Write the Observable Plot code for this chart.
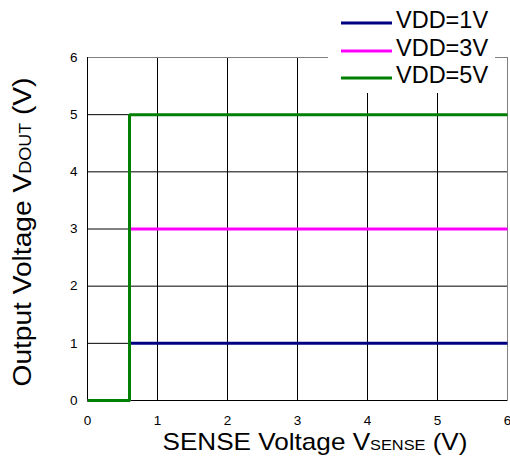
<!DOCTYPE html>
<html><head><meta charset="utf-8">
<script src="https://cdn.jsdelivr.net/npm/d3@7"></script>
<script src="https://cdn.jsdelivr.net/npm/@observablehq/plot@0.6"></script>
<style>
body{margin:0;background:#fff;}
#wrap{width:510px;height:459px;}
</style></head><body><div id="wrap"></div>
<script>
const series = ["VDD=1V", "VDD=3V", "VDD=5V"];
const colors = ["#000080", "#ff00ff", "#008000"];
const stepX = [0, 0.6, 0.6, 6];
const vdd1Y = [0, 0, 1, 1];
const vdd3Y = [0, 0, 3, 3];
const vdd5Y = [0, 0, 5, 5];
const xTicks = [0, 1, 2, 3, 4, 5, 6];
const yTicks = [0, 1, 2, 3, 4, 5, 6];

const seriesY = [vdd1Y, vdd3Y, vdd5Y];
const rows = [];
series.forEach((s, i) => stepX.forEach((x, j) => rows.push({series: s, x, y: seriesY[i][j]})));

const FONT = '"Liberation Sans", Arial, sans-serif';
const plot = Plot.plot({
  width: 510, height: 459,
  marginLeft: 87, marginRight: 3, marginTop: 57, marginBottom: 59,
  style: {fontFamily: FONT, fontSize: "13.5px", color: "#000", background: "#fff"},
  x: {domain: [0, 6], ticks: xTicks, tickFormat: d => String(d), label: null, tickSize: 0, tickPadding: 15},
  y: {domain: [0, 6], ticks: yTicks, tickFormat: d => String(d), label: null, tickSize: 0, tickPadding: 10},
  color: {domain: series, range: colors},
  marks: [
    Plot.gridX(xTicks, {stroke: "#000", strokeOpacity: 1}),
    Plot.gridY(yTicks, {stroke: "#000", strokeOpacity: 1}),
    Plot.frame({stroke: "#808080"}),
    Plot.ruleX([0], {stroke: "#000"}),
    Plot.ruleY([0], {stroke: "#000"}),
    Plot.line(rows, {x: "x", y: "y", z: "series", stroke: "series", strokeWidth: 3, strokeLinejoin: "miter", strokeLinecap: "butt"})
  ]
});
document.getElementById("wrap").appendChild(plot);

const svg = d3.select(plot);
// legend
const lg = svg.append("g").attr("font-family", FONT).attr("text-anchor", "start");
lg.append("rect").attr("x", 328).attr("y", 0).attr("width", 167).attr("height", 93).attr("fill", "#fff");
const rowY = [23, 51, 78];
series.forEach((s, i) => {
  lg.append("line").attr("x1", 341).attr("x2", 392).attr("y1", rowY[i]).attr("y2", rowY[i])
    .attr("stroke", colors[i]).attr("stroke-width", 3);
  lg.append("text").attr("x", 396).attr("y", rowY[i] + 5)
    .attr("font-size", 23.5).attr("fill", "#000").text(s);
});
// axis titles
const xt = svg.append("text").attr("x", 315).attr("y", 450).attr("text-anchor", "middle")
  .attr("font-family", FONT).attr("font-size", 24).attr("fill", "#000")
  .attr("textLength", 305).attr("lengthAdjust", "spacingAndGlyphs");
xt.append("tspan").text("SENSE Voltage V");
xt.append("tspan").attr("font-size", 15).text("SENSE");
xt.append("tspan").text(" (V)");
const yt = svg.append("text").attr("transform", "translate(31,232) rotate(-90)").attr("text-anchor", "middle")
  .attr("font-family", FONT).attr("font-size", 25).attr("fill", "#000")
  .attr("textLength", 309).attr("lengthAdjust", "spacingAndGlyphs");
yt.append("tspan").text("Output Voltage V");
yt.append("tspan").attr("font-size", 16).text("DOUT");
yt.append("tspan").text(" (V)");
</script></body></html>
